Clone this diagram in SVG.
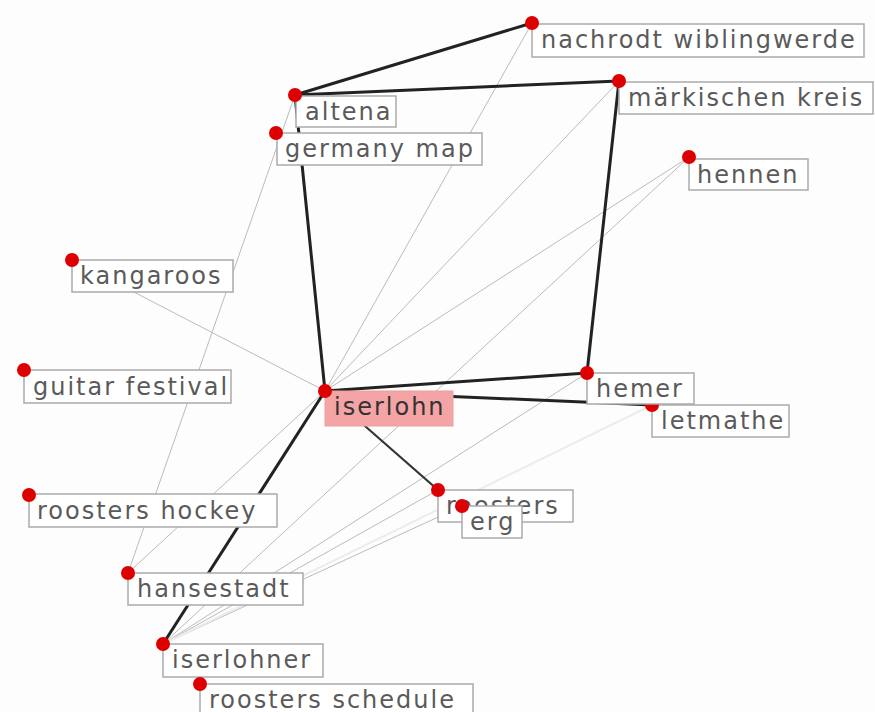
<svg xmlns="http://www.w3.org/2000/svg" width="875" height="712" viewBox="0 0 875 712">
<style>
.bg{fill:#fdfdfd}
.thick{stroke:#222;stroke-width:3;fill:none}
.med{stroke:#333;stroke-width:2.2;fill:none}
.thin{stroke:#bbb;stroke-width:1;fill:none}
.faint{stroke:#ececec;stroke-width:2;fill:none}
.box{fill:#fff;stroke:#aaa;stroke-width:1.5}
.hl{fill:#f4a4a4;stroke:#e8a0a0;stroke-width:1}
.dot{fill:#dd0000}
text{font-family:"DejaVu Sans","Noto Sans",sans-serif;font-size:24px;letter-spacing:2px;fill:#5a5a5a}
.hlt{fill:#333}
</style>
<rect class="bg" x="0" y="0" width="875" height="712"/>
<g id="connectors">
<line class="thin" x1="532" y1="23" x2="325" y2="391"/>
<line class="thin" x1="619" y1="81" x2="325" y2="391"/>
<line class="thin" x1="689" y1="157" x2="325" y2="391"/>
<line class="thin" x1="689" y1="157" x2="163" y2="644"/>
<line class="thin" x1="72" y1="260" x2="325" y2="391"/>
<line class="thin" x1="295" y1="95" x2="128" y2="573"/>
<line class="thin" x1="128" y1="573" x2="325" y2="391"/>
<line class="thin" x1="163" y1="644" x2="587" y2="373"/>
<line class="thin" x1="163" y1="644" x2="438" y2="490"/>
<line class="thin" x1="163" y1="644" x2="462" y2="506"/>
<line class="faint" x1="163" y1="644" x2="652" y2="405"/>
<line class="thick" x1="295" y1="95" x2="532" y2="23"/>
<line class="thick" x1="295" y1="95" x2="619" y2="81"/>
<line class="thick" x1="619" y1="81" x2="587" y2="373"/>
<line class="thick" x1="295" y1="95" x2="325" y2="391"/>
<line class="thick" x1="325" y1="391" x2="587" y2="373"/>
<line class="thick" x1="325" y1="391" x2="652" y2="405"/>
<line class="thick" x1="325" y1="391" x2="163" y2="644"/>
<line class="med" x1="325" y1="391" x2="438" y2="490"/>
</g>
<g id="n-nachrodt"><rect class="box" x="532" y="24" width="332" height="33"/><circle class="dot" cx="532" cy="23" r="7"/><text x="541" y="48">nachrodt wiblingwerde</text></g>
<g id="n-maerkischen"><rect class="box" x="619" y="82" width="254" height="32"/><circle class="dot" cx="619" cy="81" r="7"/><text x="628" y="106">märkischen kreis</text></g>
<g id="n-altena"><rect class="box" x="296" y="96" width="100" height="31"/><circle class="dot" cx="295" cy="95" r="7"/><text x="305" y="120">altena</text></g>
<g id="n-germany"><rect class="box" x="277" y="133" width="205" height="32"/><circle class="dot" cx="276" cy="133" r="7"/><text x="285" y="157">germany map</text></g>
<g id="n-hennen"><rect class="box" x="689" y="159" width="119" height="31"/><circle class="dot" cx="689" cy="157" r="7"/><text x="697" y="183">hennen</text></g>
<g id="n-kangaroos"><rect class="box" x="72" y="260" width="161" height="32"/><circle class="dot" cx="72" cy="260" r="7"/><text x="80" y="284">kangaroos</text></g>
<g id="n-guitar"><rect class="box" x="24" y="370" width="207" height="33"/><circle class="dot" cx="24" cy="370" r="7"/><text x="33" y="395">guitar festival</text></g>
<g id="n-letmathe"><rect class="box" x="652" y="405" width="137" height="32"/><circle class="dot" cx="652" cy="405" r="7"/><text x="661" y="429">letmathe</text></g>
<g id="n-hemer"><rect class="box" x="587" y="373" width="107" height="31"/><circle class="dot" cx="587" cy="373" r="7"/><text x="596" y="397">hemer</text></g>
<g id="n-iserlohn"><rect class="hl" x="325" y="391" width="128" height="35"/><circle class="dot" cx="325" cy="391" r="7"/><text class="hlt" x="334" y="415">iserlohn</text></g>
<g id="n-roosters"><rect class="box" x="438" y="490" width="135" height="32"/><circle class="dot" cx="438" cy="490" r="7"/><text x="446" y="514">roosters</text></g>
<g id="n-erg"><rect class="box" x="462" y="506" width="60" height="32"/><circle class="dot" cx="462" cy="506" r="7"/><text x="470" y="530">erg</text></g>
<g id="n-roostershockey"><rect class="box" x="29" y="494" width="248" height="33"/><circle class="dot" cx="29" cy="495" r="7"/><text x="37" y="519">roosters hockey</text></g>
<g id="n-hansestadt"><rect class="box" x="128" y="573" width="175" height="32"/><circle class="dot" cx="128" cy="573" r="7"/><text x="137" y="597">hansestadt</text></g>
<g id="n-iserlohner"><rect class="box" x="163" y="644" width="160" height="33"/><circle class="dot" cx="163" cy="644" r="7"/><text x="172" y="668">iserlohner</text></g>
<g id="n-roostersschedule"><rect class="box" x="200" y="684" width="273" height="34"/><circle class="dot" cx="200" cy="684" r="7"/><text x="209" y="708">roosters schedule</text></g>
</svg>
